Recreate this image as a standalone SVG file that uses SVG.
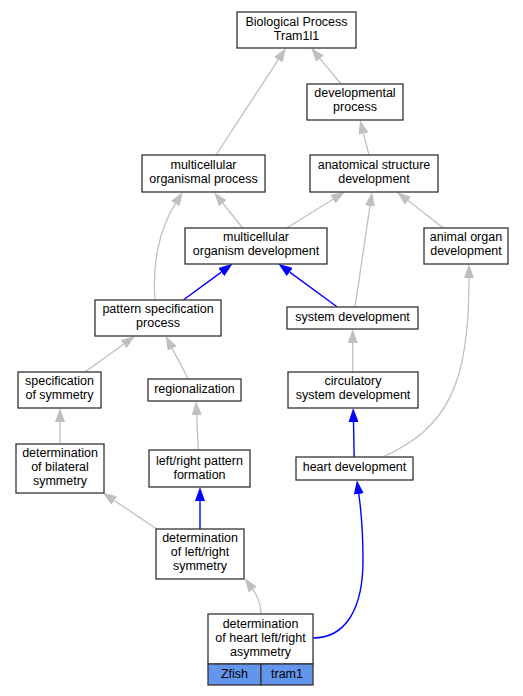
<svg xmlns="http://www.w3.org/2000/svg" width="523" height="696" viewBox="0 0 523 696">
<style>
.n rect{fill:#fff;stroke:#333;stroke-width:1.3}
.n text{font-family:"Liberation Sans",Arial,sans-serif;font-size:12.5px;fill:#000;text-anchor:middle}
.g{fill:none;stroke:#c0c0c0;stroke-width:1.3;marker-end:url(#ag)}
.b{fill:none;stroke:#0000ff;stroke-width:1.4;marker-end:url(#ab)}
.n rect.c{fill:#6495ed}
</style>
<defs>
<marker id="ag" markerUnits="userSpaceOnUse" markerWidth="14" markerHeight="10" refX="0" refY="5" orient="auto" viewBox="0 0 14 10"><path d="M0,0L14,5L0,10z" fill="#c0c0c0"/></marker>
<marker id="ab" markerUnits="userSpaceOnUse" markerWidth="14" markerHeight="10" refX="0" refY="5" orient="auto" viewBox="0 0 14 10"><path d="M0,0L14,5L0,10z" fill="#0000ff"/></marker>
</defs>
<rect width="523" height="696" fill="#fff"/>
<g id="edges">
<path class="g" d="M341,84L320,58.6"/>
<path class="g" d="M216,155L278.3,59.7"/>
<path class="g" d="M369,155L363.5,133.6"/>
<path class="g" d="M242.7,228L222.9,203.3"/>
<path class="g" d="M286.7,228L333,199.2"/>
<path class="g" d="M443.3,228L408,200.6"/>
<path class="g" d="M355,307L370,205.9"/>
<path class="g" d="M155,300C152,262 160,228 175.3,203.6"/>
<path class="b" d="M183.3,300L221.3,272.1"/>
<path class="b" d="M337.3,307L289.7,272.1"/>
<path class="g" d="M85,372L123.6,344.2"/>
<path class="g" d="M188.3,379L172.2,348.4"/>
<path class="g" d="M352.7,372L352.7,343"/>
<path class="b" d="M354.2,457L353.5,422"/>
<path class="g" d="M383,457C448,427 469,385 469,278"/>
<path class="g" d="M60,444L60,422"/>
<path class="g" d="M198.3,450L196.7,415"/>
<path class="g" d="M156.7,529L114.3,500.5"/>
<path class="b" d="M200,529L200,501"/>
<path class="g" d="M261,614C261,604 258,597 252.8,589.6"/>
<path class="b" d="M313,638C345,638 363,610 363,560C363,530 361,510 358.8,494"/>
</g>
<g id="n1" class="n"><rect x="237" y="12" width="119" height="36"/><text x="296.5" y="25.5">Biological Process</text><text x="296.5" y="39.5">Tram1l1</text></g>
<g id="n2" class="n"><rect x="307" y="84" width="96" height="36"/><text x="355" y="97">developmental</text><text x="355" y="111">process</text></g>
<g id="n3" class="n"><rect x="142" y="155" width="123" height="37"/><text x="203.5" y="168.5">multicellular</text><text x="203.5" y="182.5">organismal process</text></g>
<g id="n4" class="n"><rect x="310" y="155" width="128" height="37"/><text x="374" y="168.5">anatomical structure</text><text x="374" y="182.5">development</text></g>
<g id="n5" class="n"><rect x="185" y="228" width="142" height="36"/><text x="256" y="241">multicellular</text><text x="256" y="255">organism development</text></g>
<g id="n6" class="n"><rect x="424" y="228" width="84" height="36"/><text x="466" y="241">animal organ</text><text x="466" y="255">development</text></g>
<g id="n7" class="n"><rect x="95" y="300" width="126" height="36"/><text x="158" y="313">pattern specification</text><text x="158" y="327">process</text></g>
<g id="n8" class="n"><rect x="287" y="307" width="131" height="22"/><text x="352.5" y="320.5">system development</text></g>
<g id="n9" class="n"><rect x="18" y="372" width="83" height="36"/><text x="59.5" y="385">specification</text><text x="59.5" y="399">of symmetry</text></g>
<g id="n10" class="n"><rect x="148" y="379" width="93" height="22"/><text x="194.5" y="392.5">regionalization</text></g>
<g id="n11" class="n"><rect x="288" y="372" width="130" height="36"/><text x="353" y="385">circulatory</text><text x="353" y="399">system development</text></g>
<g id="n12" class="n"><rect x="16" y="444" width="88" height="49"/><text x="60" y="457">determination</text><text x="60" y="471">of bilateral</text><text x="60" y="485">symmetry</text></g>
<g id="n13" class="n"><rect x="149" y="450" width="101" height="37"/><text x="199.5" y="464.5">left/right pattern</text><text x="199.5" y="478.5">formation</text></g>
<g id="n14" class="n"><rect x="296" y="457" width="117" height="23"/><text x="354.5" y="471">heart development</text></g>
<g id="n15" class="n"><rect x="156" y="529" width="88" height="50"/><text x="200" y="542">determination</text><text x="200" y="556">of left/right</text><text x="200" y="570">symmetry</text></g>
<g id="n16" class="n"><rect x="208" y="614" width="105" height="50"/><text x="260.5" y="628">determination</text><text x="260.5" y="642">of heart left/right</text><text x="260.5" y="656">asymmetry</text><rect class="c" x="208" y="664" width="53" height="21"/><rect class="c" x="261" y="664" width="52" height="21"/><text x="234.5" y="677.5">Zfish</text><text x="287" y="677.5">tram1</text></g>
</svg>
